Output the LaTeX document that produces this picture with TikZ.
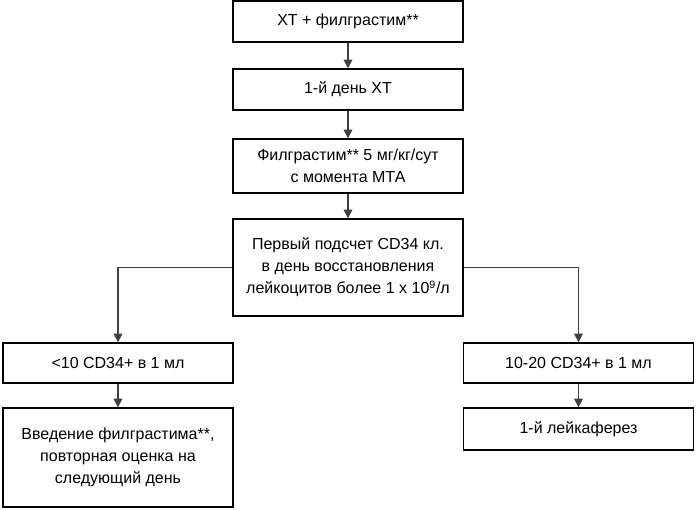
\documentclass[tikz,border=0pt]{standalone}
\usepackage{fontspec}
\setmainfont{Liberation Sans}
\usetikzlibrary{arrows.meta}
\begin{document}
\begin{tikzpicture}[x=0.75pt,y=-0.75pt,
  box/.style={draw=black,line width=1pt,fill=white,inner sep=2pt,align=center,
    minimum width=172.5pt,font=\fontsize{12}{16.5}\selectfont},
  arr/.style={draw=black!75,line width=1pt,-{Triangle[width=6.5pt,length=6.5pt]}}]
\useasboundingbox (0,0) rectangle (696,510);
\node[box,minimum height=30.75pt] (b1) at (348,21.5) {ХТ + филграстим**};
\node[box,minimum height=30.75pt] (b2) at (348,89.5) {1-й день ХТ};
\node[box,minimum height=40.5pt] (b3) at (348,166) {Филграстим** 5 мг/кг/сут\\с момента МТА};
\node[box,minimum height=72.75pt] (b4) at (348,267.5) {Первый подсчет CD34 кл.\\в день восстановления\\лейкоцитов более 1 х 10\textsuperscript{9}/л};
\node[box,minimum height=30pt] (b5) at (118,363) {<10 CD34+ в 1 мл};
\node[box,minimum height=74.25pt] (b6) at (118,457.5) {Введение филграстима**,\\повторная оценка на\\следующий день};
\node[box,minimum height=30pt] (b7) at (578.5,363) {10-20 CD34+ в 1 мл};
\node[box,minimum height=31.5pt] (b8) at (578.5,429) {1-й лейкаферез};
\draw[arr] (b1) -- (b2);
\draw[arr] (b2) -- (b3);
\draw[arr] (b3) -- (b4);
\draw[arr] (b4.west) -| (b5.north);
\draw[arr] (b4.east) -| (b7.north);
\draw[arr] (b5) -- (b6);
\draw[arr] (b7) -- (b8);
\end{tikzpicture}
\end{document}
